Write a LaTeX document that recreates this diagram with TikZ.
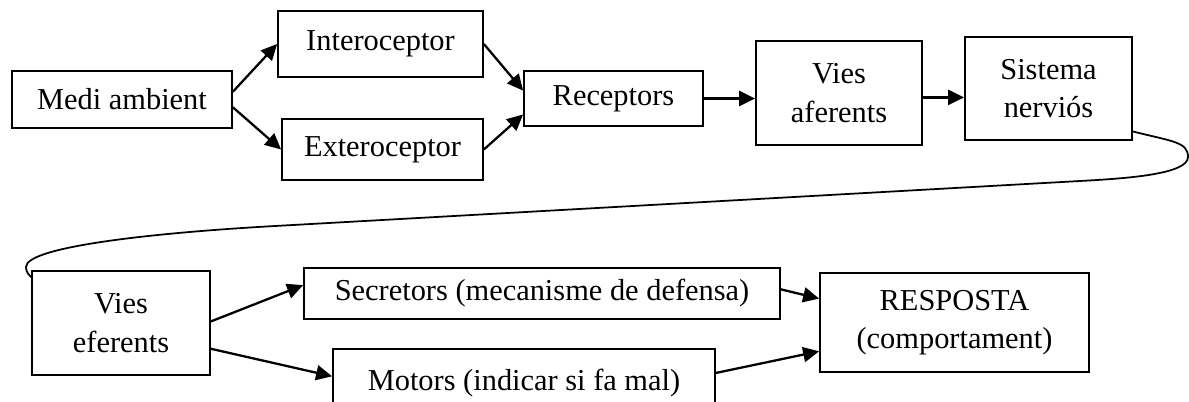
\documentclass[tikz,border=0pt]{standalone}
\usepackage{fontspec}
\setmainfont{Liberation Serif}
\usetikzlibrary{arrows.meta}

\begin{document}
\begin{tikzpicture}[
  bx/.style={draw,line width=1pt,inner sep=0pt,align=center,font=\fontsize{17.3}{22}\selectfont},
  arr/.style={-{Triangle[length=0.32cm,width=0.3cm]},line width=1.3pt},
  link/.style={line width=1pt}]
  \clip (0,0) rectangle (23.78,-8.02);
  \node[bx,minimum width=4.40cm,minimum height=1.14cm] (medi) at (2.44,-1.99) {Medi ambient};
  \node[bx,minimum width=4.10cm,minimum height=1.32cm] (intero) at (7.61,-0.88) {Interoceptor};
  \node[bx,minimum width=4.02cm,minimum height=1.22cm] (extero) at (7.65,-2.99) {Exteroceptor};
  \node[bx,minimum width=3.58cm,minimum height=1.10cm] (recep) at (12.27,-1.97) {Receptors};
  \node[bx,minimum width=3.32cm,minimum height=2.08cm] (aferents) at (16.78,-1.86) {Vies\\aferents};
  \node[bx,minimum width=3.34cm,minimum height=2.06cm] (sistema) at (20.97,-1.77) {Sistema\\nerviós};
  \node[bx,minimum width=3.56cm,minimum height=2.08cm] (eferents) at (2.42,-6.46) {Vies\\eferents};
  \node[bx,minimum width=9.52cm,minimum height=1.02cm] (secretors) at (10.84,-5.87) {Secretors (mecanisme de defensa)};
  \node[bx,minimum width=7.64cm,minimum height=1.36cm] (motors) at (10.48,-7.66) {Motors (indicar si fa mal)};
  \node[bx,minimum width=5.38cm,minimum height=1.98cm] (resposta) at (19.09,-6.45) {RESPOSTA\\(comportament)};
  \draw[arr] (medi.4) -- (intero.west);
  \draw[arr] (medi.-4) -- (extero.west);
  \draw[arr] (intero.east) -- (recep.175);
  \draw[arr] (extero.east) -- (recep.190);
  \draw[arr] (recep.east) -- (recep.east -| aferents.west);
  \draw[arr] (aferents.-3) -- (aferents.-3 -| sistema.west);
  % link from the upper row down to the lower row
  \coordinate (turnR) at (23.76,-3.14);
  \coordinate (turnL) at (0.52,-5.34);
  \draw[link] (sistema.-27) .. controls +(0.8,-0.2) and +(0,0.3) .. (turnR)
    .. controls +(0,-0.35) and +(0.9,0.05) .. (21.6,-3.62) -- (5.5,-4.52)
    .. controls +(-2.5,-0.14) and +(0,0.4) .. (turnL)
    .. controls +(0,-0.1) and +(-0.05,0.05) .. (eferents.153);
  \draw[arr] (eferents.1) -- (secretors.178);
  \draw[arr] (eferents.-16) -- (motors.178);
  \draw[arr] (secretors.1) -- (resposta.170);
  \draw[arr] (motors.3) -- (resposta.192);
\end{tikzpicture}
\end{document}
